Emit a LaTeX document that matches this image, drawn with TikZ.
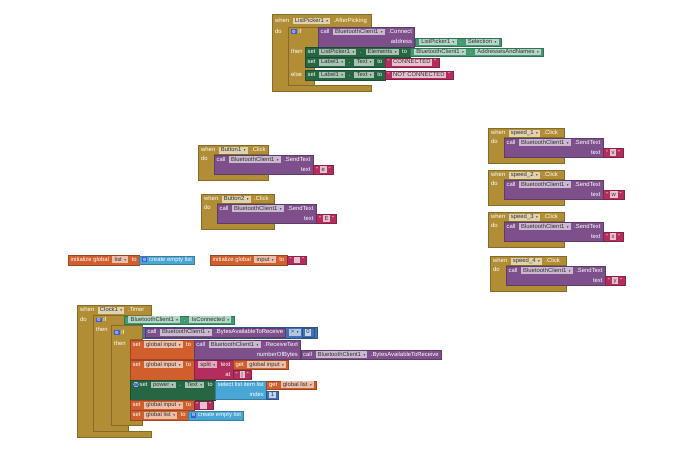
\documentclass[tikz,border=0pt]{standalone}
\usepackage{fontspec}
\setmainfont{Liberation Sans}
\newfontfamily\arwfont{DejaVu Sans}
\usepackage{tikz}
\usetikzlibrary{backgrounds}

\definecolor{cgold}{HTML}{B18E35}
\definecolor{cpurp}{HTML}{7D4F8B}
\definecolor{csetg}{HTML}{266643}
\definecolor{cgetg}{HTML}{439970}
\definecolor{ctext}{HTML}{B32D5E}
\definecolor{cvar}{HTML}{D05F2D}
\definecolor{clist}{HTML}{49A6D4}
\definecolor{cmath}{HTML}{3F71B5}
\definecolor{cicon}{HTML}{3B5FD0}
\definecolor{ink}{HTML}{333333}

\setlength{\fboxsep}{0.7pt}
\newcommand{\blk}{\fontsize{5.9}{10}\selectfont}
\newcommand{\dd}[2]{\hspace{1.8pt}\colorbox{#1!40!white}{\hspace{1.5pt}\textcolor{ink}{\vphantom{Xg}#2}\hspace{2.5pt}\textcolor{ink}{\arwfont\fontsize{3.5}{4}\selectfont ▾}\hspace{1.5pt}}\hspace{1.8pt}}
\newcommand{\fld}[2]{\colorbox{#1!30!white}{\hspace{1pt}\textcolor{ink}{\vphantom{Xg}#2}\hspace{1pt}}}
\newcommand{\qs}[1]{\textquotedblleft\hspace{2pt}\fld{ctext}{#1}\hspace{2pt}\textquotedblright}
\newcommand{\gear}{\colorbox{cicon}{\textcolor{white}{\arwfont\fontsize{4.5}{4.5}\selectfont ⚙}}}
% event block: x0, y0, header right, header bottom, bottom
\newcommand{\evpath}[5]{\filldraw[evt] (#1,#2) -- (#3,#2) -- (#3,#4) -- ({#1+16},#4) -- ({#1+16},{#5-6}) -- (#3,{#5-6}) -- (#3,#5) -- (#1,#5) -- cycle;}

\tikzset{
  blk/.style={anchor=west, font=\blk, text=white, inner xsep=2.5pt, inner ysep=1.2pt,
    text height=5.2pt, text depth=2.3pt, line width=0.3pt},
  rep/.style={blk, inner ysep=0.6pt},
  two/.style={text depth=12.3pt},
  tworow/.style={align=right, text height=15.2pt, text depth=2.3pt},
  lbl/.style={anchor=base west, font=\blk, text=white, inner sep=0pt},
  evt/.style={fill=cgold, draw=cgold!75!black, line width=0.3pt},
  purp/.style={fill=cpurp, draw=cpurp!75!black},
  setg/.style={fill=csetg, draw=csetg!75!black},
  getg/.style={fill=cgetg, draw=cgetg!75!black},
  txt/.style={fill=ctext, draw=ctext!75!black},
  var/.style={fill=cvar, draw=cvar!75!black},
  lst/.style={fill=clist, draw=clist!75!black},
  num/.style={fill=cmath, draw=cmath!75!black},
  cmticon/.style={circle, fill=cicon, draw=white, line width=0.3pt, inner sep=0.4pt,
    text=white, font=\fontsize{4}{4}\selectfont},
}

\begin{document}
\begin{tikzpicture}[x=1pt,y=-1pt]
\begin{scope}[on background layer]
\fill[white] (0,0) rectangle (690,459);
\end{scope}
\useasboundingbox (0,0) rectangle (690,459);

% ListPicker1.AfterPicking
\evpath{272}{14}{371}{27}{91.5}
\filldraw[evt] (288,27) -- (318,27) -- (318,47) -- (305,47) -- (305,66.8) -- (314,66.8) -- (314,70) -- (305,70) -- (305,79.9) -- (314,79.9) -- (314,85.5) -- (288,85.5) -- cycle;
\node[lbl] (whenA) at (275,22.5) {when \dd{cgold}{ListPicker1} .AfterPicking};
\node[lbl] (doA) at (275,33.4) {do};
\node[lbl] (ifA) at (291,33.4) {\gear\ if};
\node[blk,purp,tworow,anchor=north west] (conA) at (318,27) {call \dd{cpurp}{BluetoothClient1} .Connect\\address};
\node[rep,getg,anchor=base west] (selA) at (conA.base east) {\dd{cgetg}{ListPicker1} . \dd{cgetg}{Selection}};
\node[lbl] (thenA) at (291,53.4) {then};
\node[blk,setg,anchor=north west] (setA1) at (305,47) {set \dd{csetg}{ListPicker1} . \dd{csetg}{Elements} to};
\node[rep,getg,anchor=base west] (addrA) at (setA1.base east) {\dd{cgetg}{BluetoothClient1} . \dd{cgetg}{AddressesAndNames}};
\node[blk,setg,anchor=north west] (setA2) at (setA1.south west) {set \dd{csetg}{Label1} . \dd{csetg}{Text} to};
\node[rep,txt,anchor=base west] (strA2) at (setA2.base east) {\qs{CONNECTED}};
\node[lbl] (elseA) at (291,76.4) {else};
\node[blk,setg,anchor=north west] (setA3) at (305,70) {set \dd{csetg}{Label1} . \dd{csetg}{Text} to};
\node[rep,txt,anchor=base west] (strA3) at (setA3.base east) {\qs{NOT CONNECTED}};

% Button1.Click
\evpath{198}{145}{268}{154.5}{180}
\node[lbl] (whenB1) at (201,151.6) {when \dd{cgold}{Button1} .Click};
\node[lbl] (doB1) at (201,160.9) {do};
\node[blk,purp,tworow,anchor=north west] (sendB1) at (214,154.5) {call \dd{cpurp}{BluetoothClient1} .SendText\\text};
\node[rep,txt,anchor=base west] (strB1) at (sendB1.base east) {\qs{e}};

% Button2.Click
\evpath{201}{194}{274}{203.5}{229}
\node[lbl] (whenB2) at (204,200.6) {when \dd{cgold}{Button2} .Click};
\node[lbl] (doB2) at (204,209.9) {do};
\node[blk,purp,tworow,anchor=north west] (sendB2) at (217,203.5) {call \dd{cpurp}{BluetoothClient1} .SendText\\text};
\node[rep,txt,anchor=base west] (strB2) at (sendB2.base east) {\qs{E}};

% speed buttons
\evpath{488}{128}{564}{137.5}{163}
\node[lbl] (whenS1) at (491,134.6) {when \dd{cgold}{speed\_1} .Click};
\node[lbl] (doS1) at (491,143.9) {do};
\node[blk,purp,tworow,anchor=north west] (sendS1) at (504,137.5) {call \dd{cpurp}{BluetoothClient1} .SendText\\text};
\node[rep,txt,anchor=base west] (strS1) at (sendS1.base east) {\qs{v}};

\evpath{488}{170}{564}{179.5}{205}
\node[lbl] (whenS2) at (491,176.6) {when \dd{cgold}{speed\_2} .Click};
\node[lbl] (doS2) at (491,185.9) {do};
\node[blk,purp,tworow,anchor=north west] (sendS2) at (504,179.5) {call \dd{cpurp}{BluetoothClient1} .SendText\\text};
\node[rep,txt,anchor=base west] (strS2) at (sendS2.base east) {\qs{w}};

\evpath{488}{212}{564}{221.5}{247}
\node[lbl] (whenS3) at (491,218.6) {when \dd{cgold}{speed\_3} .Click};
\node[lbl] (doS3) at (491,227.9) {do};
\node[blk,purp,tworow,anchor=north west] (sendS3) at (504,221.5) {call \dd{cpurp}{BluetoothClient1} .SendText\\text};
\node[rep,txt,anchor=base west] (strS3) at (sendS3.base east) {\qs{x}};

\evpath{490}{256}{566}{265.5}{291}
\node[lbl] (whenS4) at (493,262.6) {when \dd{cgold}{speed\_4} .Click};
\node[lbl] (doS4) at (493,271.9) {do};
\node[blk,purp,tworow,anchor=north west] (sendS4) at (506,265.5) {call \dd{cpurp}{BluetoothClient1} .SendText\\text};
\node[rep,txt,anchor=base west] (strS4) at (sendS4.base east) {\qs{y}};

% globals
\node[blk,var] (initL) at (68,260) {initialize global \dd{cvar}{list} to};
\node[rep,lst,anchor=base west] (emptyL) at (initL.base east) {\gear\ create empty list};
\node[blk,var] (initI) at (210,260) {initialize global \dd{cvar}{input} to};
\node[rep,txt,anchor=base west] (emptyI) at (initI.base east) {\qs{\hspace{3pt}}};

% Clock1.Timer
\evpath{77}{305}{151}{315}{437}
\filldraw[evt] (93,315) -- (124,315) -- (124,325) -- (111,325) -- (111,425) -- (128,425) -- (128,431) -- (93,431) -- cycle;
\filldraw[evt] (111,325) -- (142,325) -- (142,339.5) -- (130,339.5) -- (130,419) -- (142,419) -- (142,425) -- (111,425) -- cycle;
\node[lbl] (whenC) at (80,311.6) {when \dd{cgold}{Clock1} .Timer};
\node[lbl] (doC) at (80,321.5) {do};
\node[lbl] (ifC1) at (96,321.5) {\gear\ if};
\node[rep,getg] (conC) at (124,320) {\dd{cgetg}{BluetoothClient1} . \dd{cgetg}{IsConnected}};
\node[lbl] (thenC1) at (96,331.5) {then};
\node[lbl] (ifC2) at (114,334.2) {\gear\ if};
\node[rep,purp] (bytC1) at (145,332.5) {call \dd{cpurp}{BluetoothClient1} .BytesAvailableToReceive};
\node[lbl,anchor=west] (gtC) at ([xshift=1pt]bytC1.east) {\dd{cmath}{>}};
\node[rep,num] (zeroC) at ([xshift=1pt]gtC.east) {\fld{cmath}{0}};
\coordinate (cmpR) at ([xshift=3pt]zeroC.east);
\begin{scope}[on background layer]
\filldraw[num] (142,327) rectangle (cmpR |- 0,338);
\end{scope}
\node[lbl] (thenC2) at (114,345.9) {then};
\node[blk,var,two,anchor=north west] (setC1) at (130,339.5) {set \dd{cvar}{global input} to};
\node[rep,purp,tworow,anchor=base west] (recvC) at ([yshift=-10pt]setC1.base east) {call \dd{cpurp}{BluetoothClient1} .ReceiveText\\numberOfBytes};
\node[rep,purp,anchor=base west] (bytC2) at (recvC.base east) {call \dd{cpurp}{BluetoothClient1} .BytesAvailableToReceive};
\node[blk,var,two,anchor=north west] (setC2) at (setC1.south west) {set \dd{cvar}{global input} to};
\node[rep,txt,tworow,anchor=base west] (splitC) at ([yshift=-10pt]setC2.base east) {\dd{ctext}{split} text\\at};
\node[rep,var,anchor=base west] (getC1) at ([yshift=10pt]splitC.base east) {get \dd{cvar}{global input}};
\node[rep,txt,anchor=base west] (barC) at (splitC.base east) {\qs{|}};
\node[blk,setg,two,anchor=north west] (setC3) at (setC2.south west) {\hspace{7pt}set \dd{csetg}{power} . \dd{csetg}{Text} to};
\node[cmticon] (cmtC) at ([xshift=6pt,yshift=2pt]setC3.base west) {?};
\node[rep,lst,tworow,anchor=base west] (selC) at ([yshift=-10pt]setC3.base east) {select list item list\\index};
\node[rep,var,anchor=base west] (getC2) at ([yshift=10pt]selC.base east) {get \dd{cvar}{global list}};
\node[rep,num,anchor=base west] (oneC) at (selC.base east) {\fld{cmath}{1}};
\node[blk,var,anchor=north west] (setC4) at (setC3.south west) {set \dd{cvar}{global input} to};
\node[rep,txt,anchor=base west] (strC4) at (setC4.base east) {\qs{\hspace{3pt}}};
\node[blk,var,anchor=north west] (setC5) at (setC4.south west) {set \dd{cvar}{global list} to};
\node[rep,lst,anchor=base west] (emptyC) at (setC5.base east) {\gear\ create empty list};
\end{tikzpicture}
\end{document}
